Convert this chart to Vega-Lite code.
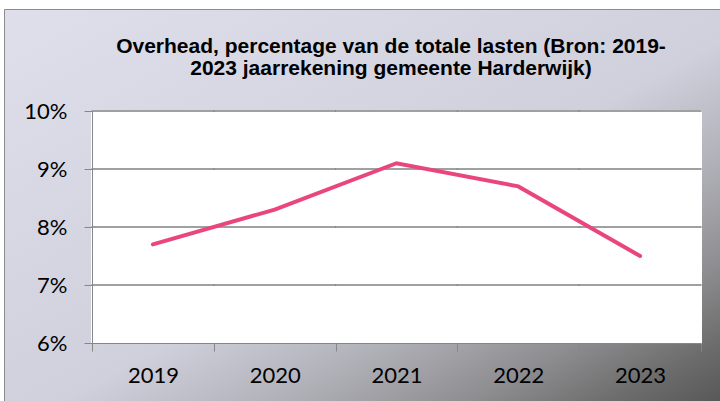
{
  "$schema": "https://vega.github.io/schema/vega-lite/v6.json",
  "autosize": {"type": "none"},
  "padding": {"left": 4, "top": 9, "right": 0, "bottom": 0},
  "width": 716,
  "height": 392,
  "background": "white",
  "view": {
    "stroke": "#8c8c8c",
    "strokeWidth": 1,
    "fill": {
      "gradient": "linear",
      "x1": 0, "y1": 0, "x2": 1, "y2": 1,
      "stops": [
        {"offset": 0, "color": "#dedfeb"},
        {"offset": 0.3, "color": "#d6d7e3"},
        {"offset": 0.54, "color": "#cfd0dc"},
        {"offset": 0.68, "color": "#b3b3bb"},
        {"offset": 0.82, "color": "#8f8f92"},
        {"offset": 0.925, "color": "#6c6c6c"},
        {"offset": 1, "color": "#585858"}
      ]
    }
  },
  "title": {
    "text": ["Overhead, percentage van de totale lasten (Bron: 2019-", "2023 jaarrekening gemeente Harderwijk)"],
    "font": "Liberation Sans",
    "fontSize": 21,
    "fontWeight": "bold",
    "color": "#000000",
    "anchor": "middle",
    "frame": "group",
    "orient": "top",
    "offset": -87,
    "baseline": "alphabetic",
    "lineHeight": 22.5,
    "dx": 29
  },
  "data": {
    "values": [
      {"year": "2019", "value": 7.7},
      {"year": "2020", "value": 8.3},
      {"year": "2021", "value": 9.1},
      {"year": "2022", "value": 8.7},
      {"year": "2023", "value": 7.5}
    ]
  },
  "encoding": {
    "x": {
      "field": "year",
      "type": "ordinal",
      "scale": {"type": "band", "range": [88, 697], "paddingInner": 0, "paddingOuter": 0},
      "axis": {
        "orient": "bottom",
        "offset": -58,
        "title": null,
        "grid": false,
        "tickBand": "extent",
        "labelAngle": 0,
        "labelFont": "Lato",
        "labelFontSize": 22,
        "labelColor": "#000000",
        "labelPadding": 14,
        "tickSize": 8,
        "tickColor": "#868686",
        "domainColor": "#868686",
        "domainWidth": 1,
        "zindex": 1
      }
    }
  },
  "layer": [
    {
      "mark": {"type": "rect", "fill": "#ffffff", "stroke": "#ffffff", "strokeWidth": 2},
      "encoding": {
        "y": {"datum": 6, "type": "quantitative"},
        "y2": {"datum": 10}
      }
    },
    {
      "mark": {"type": "tick", "color": "#808080", "size": 123, "thickness": 1.5, "opacity": 1},
      "encoding": {"y": {"datum": 7, "type": "quantitative"}}
    },
    {
      "mark": {"type": "tick", "color": "#808080", "size": 123, "thickness": 1.5, "opacity": 1},
      "encoding": {"y": {"datum": 8, "type": "quantitative"}}
    },
    {
      "mark": {"type": "tick", "color": "#808080", "size": 123, "thickness": 1.5, "opacity": 1},
      "encoding": {"y": {"datum": 9, "type": "quantitative"}}
    },
    {
      "mark": {"type": "tick", "color": "#808080", "size": 123, "thickness": 1.5, "opacity": 1},
      "encoding": {"y": {"datum": 10, "type": "quantitative"}}
    },
    {
      "mark": {"type": "line", "color": "#e9467d", "strokeWidth": 4, "strokeCap": "round"},
      "encoding": {
        "x": {"field": "year", "type": "ordinal", "bandPosition": 0.5},
        "y": {
          "field": "value",
          "type": "quantitative",
          "scale": {"domain": [6, 10], "range": [334, 102], "nice": false, "zero": false},
          "axis": {
            "orient": "left",
            "offset": -88,
            "title": null,
            "grid": false,
            "values": [6, 7, 8, 9, 10],
            "labelExpr": "datum.value + '%'",
            "labelFont": "Lato",
            "labelFontSize": 22,
            "labelColor": "#000000",
            "labelPadding": 17,
            "tickSize": 8,
            "tickColor": "#868686",
            "domainColor": "#868686",
            "domainWidth": 1,
            "zindex": 1
          }
        }
      }
    }
  ]
}
